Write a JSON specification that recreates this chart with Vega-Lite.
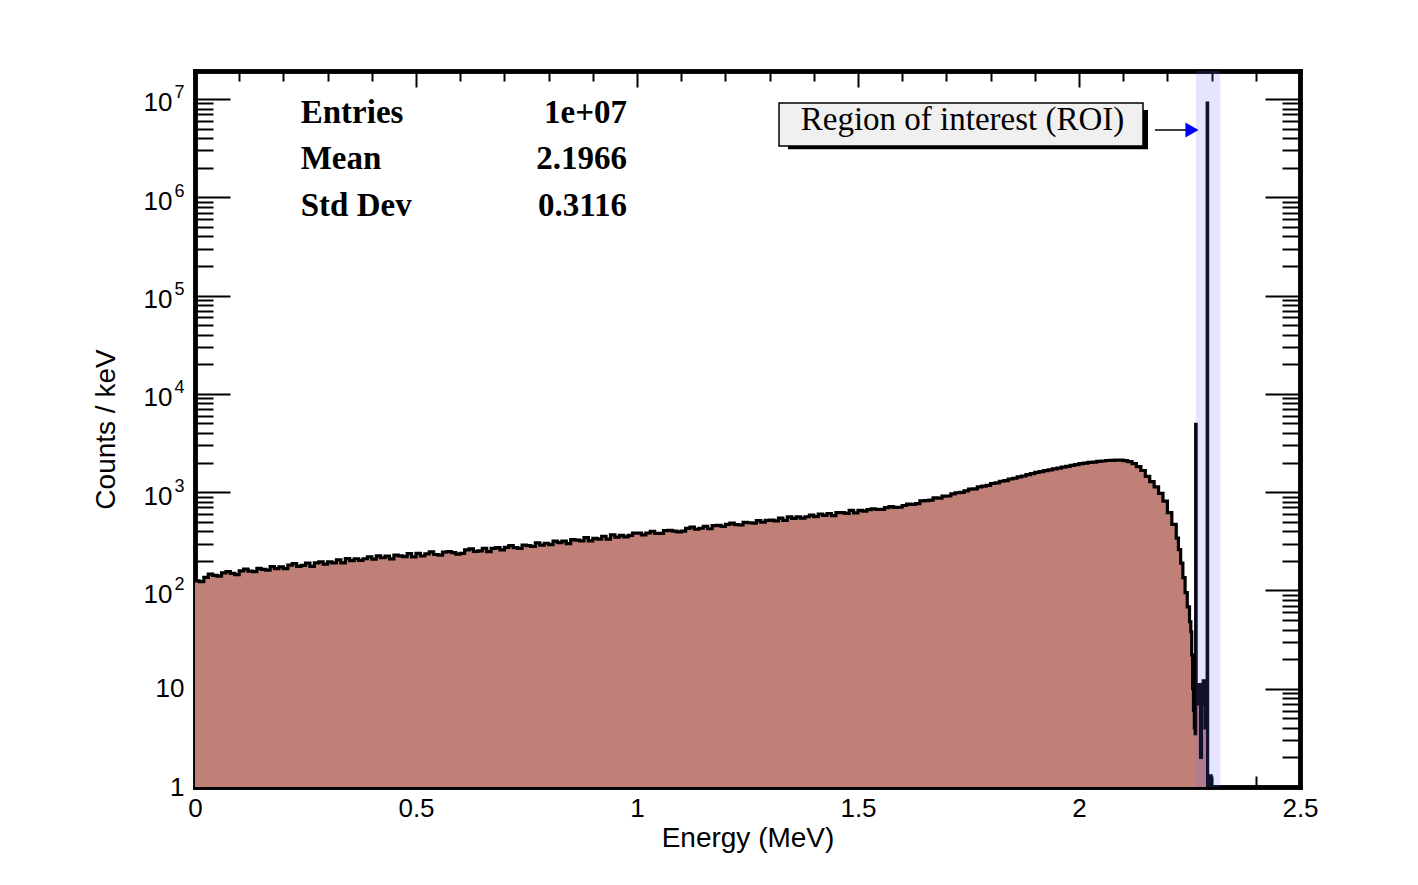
{
  "$schema": "https://vega.github.io/schema/vega-lite/v6.json",
  "width": 1105,
  "height": 716,
  "autosize": "none",
  "padding": {"left": 195, "top": 71, "right": 118, "bottom": 98},
  "background": "white",
  "config": {
    "view": {"stroke": null},
    "axis": {
      "domainColor": "black", "domainWidth": 4.5, "domainCap": "square",
      "grid": false, "zindex": 1, "tickColor": "black", "tickWidth": 2,
      "labelFont": "Liberation Sans", "labelFontSize": 26, "labelColor": "black",
      "labelFlush": false, "labelOverlap": false,
      "titleFont": "Liberation Sans", "titleFontSize": 28, "titleFontWeight": "normal", "titleColor": "black"
    }
  },
  "datasets": {
    "hist": [
      {"E":0,"c":125},{"E":0.01,"c":123},{"E":0.02,"c":136},{"E":0.03,"c":147},{"E":0.04,"c":142},{"E":0.05,"c":140},{"E":0.06,"c":151},{"E":0.07,"c":155},{"E":0.08,"c":149},{"E":0.09,"c":145},
      {"E":0.10,"c":158},{"E":0.11,"c":165},{"E":0.12,"c":157},{"E":0.13,"c":155},{"E":0.14,"c":168},{"E":0.15,"c":164},{"E":0.16,"c":161},{"E":0.17,"c":175},{"E":0.18,"c":167},{"E":0.19,"c":174},
      {"E":0.20,"c":167},{"E":0.21,"c":181},{"E":0.22,"c":187},{"E":0.23,"c":176},{"E":0.24,"c":180},{"E":0.25,"c":190},{"E":0.26,"c":176},{"E":0.27,"c":191},{"E":0.28,"c":195},{"E":0.29,"c":185},
      {"E":0.30,"c":195},{"E":0.31,"c":191},{"E":0.32,"c":205},{"E":0.33,"c":191},{"E":0.34,"c":211},{"E":0.35,"c":201},{"E":0.36,"c":210},{"E":0.37,"c":202},{"E":0.38,"c":210},{"E":0.39,"c":220},
      {"E":0.40,"c":208},{"E":0.41,"c":225},{"E":0.42,"c":215},{"E":0.43,"c":223},{"E":0.44,"c":209},{"E":0.45,"c":229},{"E":0.46,"c":225},{"E":0.47,"c":221},{"E":0.48,"c":237},{"E":0.49,"c":219},
      {"E":0.50,"c":238},{"E":0.51,"c":224},{"E":0.52,"c":235},{"E":0.53,"c":247},{"E":0.54,"c":232},{"E":0.55,"c":229},{"E":0.56,"c":245},{"E":0.57,"c":249},{"E":0.58,"c":242},{"E":0.59,"c":234},
      {"E":0.60,"c":238},{"E":0.61,"c":258},{"E":0.62,"c":265},{"E":0.63,"c":249},{"E":0.64,"c":253},{"E":0.65,"c":268},{"E":0.66,"c":248},{"E":0.67,"c":268},{"E":0.68,"c":273},{"E":0.69,"c":259},
      {"E":0.70,"c":274},{"E":0.71,"c":286},{"E":0.72,"c":273},{"E":0.73,"c":268},{"E":0.74,"c":290},{"E":0.75,"c":285},{"E":0.76,"c":280},{"E":0.77,"c":304},{"E":0.78,"c":289},{"E":0.79,"c":302},
      {"E":0.80,"c":293},{"E":0.81,"c":317},{"E":0.82,"c":306},{"E":0.83,"c":318},{"E":0.84,"c":299},{"E":0.85,"c":329},{"E":0.86,"c":325},{"E":0.87,"c":319},{"E":0.88,"c":345},{"E":0.89,"c":319},
      {"E":0.90,"c":338},{"E":0.91,"c":332},{"E":0.92,"c":356},{"E":0.93,"c":332},{"E":0.94,"c":368},{"E":0.95,"c":349},{"E":0.96,"c":364},{"E":0.97,"c":350},{"E":0.98,"c":364},{"E":0.99,"c":383},
      {"E":1.00,"c":383},{"E":1.01,"c":368},{"E":1.02,"c":384},{"E":1.03,"c":399},{"E":1.04,"c":380},{"E":1.05,"c":381},{"E":1.06,"c":405},{"E":1.07,"c":409},{"E":1.08,"c":401},{"E":1.09,"c":394},
      {"E":1.10,"c":402},{"E":1.11,"c":427},{"E":1.12,"c":440},{"E":1.13,"c":419},{"E":1.14,"c":429},{"E":1.15,"c":450},{"E":1.16,"c":424},{"E":1.17,"c":456},{"E":1.18,"c":460},{"E":1.19,"c":447},
      {"E":1.20,"c":470},{"E":1.21,"c":485},{"E":1.22,"c":467},{"E":1.23,"c":463},{"E":1.24,"c":493},{"E":1.25,"c":488},{"E":1.26,"c":483},{"E":1.27,"c":514},{"E":1.28,"c":494},{"E":1.29,"c":515},
      {"E":1.30,"c":520},{"E":1.31,"c":511},{"E":1.32,"c":543},{"E":1.33,"c":517},{"E":1.34,"c":561},{"E":1.35,"c":540},{"E":1.36,"c":561},{"E":1.37,"c":545},{"E":1.38,"c":562},{"E":1.39,"c":585},
      {"E":1.40,"c":563},{"E":1.41,"c":598},{"E":1.42,"c":581},{"E":1.43,"c":606},{"E":1.44,"c":577},{"E":1.45,"c":619},{"E":1.46,"c":620},{"E":1.47,"c":608},{"E":1.48,"c":652},{"E":1.49,"c":615},
      {"E":1.50,"c":653},{"E":1.51,"c":642},{"E":1.52,"c":664},{"E":1.53,"c":678},{"E":1.54,"c":666},{"E":1.55,"c":668},{"E":1.56,"c":697},{"E":1.57,"c":713},{"E":1.58,"c":700},{"E":1.59,"c":702},
      {"E":1.60,"c":731},{"E":1.61,"c":757},{"E":1.62,"c":752},{"E":1.63,"c":763},{"E":1.64,"c":814},{"E":1.65,"c":818},{"E":1.66,"c":830},{"E":1.67,"c":875},{"E":1.68,"c":870},{"E":1.69,"c":910},
      {"E":1.70,"c":914},{"E":1.71,"c":958},{"E":1.72,"c":986},{"E":1.73,"c":993},{"E":1.74,"c":1032},{"E":1.75,"c":1072},{"E":1.76,"c":1080},{"E":1.77,"c":1133},{"E":1.78,"c":1154},{"E":1.79,"c":1174},
      {"E":1.80,"c":1225},{"E":1.81,"c":1245},{"E":1.82,"c":1290},{"E":1.83,"c":1312},{"E":1.84,"c":1360},{"E":1.85,"c":1384},{"E":1.86,"c":1432},{"E":1.87,"c":1460},{"E":1.88,"c":1508},{"E":1.89,"c":1540},
      {"E":1.90,"c":1590},{"E":1.91,"c":1615},{"E":1.92,"c":1656},{"E":1.93,"c":1684},{"E":1.94,"c":1726},{"E":1.95,"c":1755},{"E":1.96,"c":1798},{"E":1.97,"c":1828},{"E":1.98,"c":1872},{"E":1.99,"c":1905},
      {"E":2.00,"c":1950},{"E":2.01,"c":1972},{"E":2.02,"c":2010},{"E":2.03,"c":2025},{"E":2.04,"c":2060},{"E":2.05,"c":2075},{"E":2.06,"c":2098},{"E":2.07,"c":2105},{"E":2.08,"c":2122},{"E":2.09,"c":2118},
      {"E":2.10,"c":2090},{"E":2.11,"c":2040},{"E":2.12,"c":1950},{"E":2.13,"c":1820},{"E":2.14,"c":1660},{"E":2.15,"c":1450},{"E":2.16,"c":1280},{"E":2.17,"c":1130},{"E":2.18,"c":970},{"E":2.19,"c":810},
      {"E":2.20,"c":620},{"E":2.21,"c":470},{"E":2.22,"c":340},{"E":2.225,"c":260},{"E":2.23,"c":190},{"E":2.235,"c":135},{"E":2.24,"c":95},{"E":2.245,"c":68},{"E":2.25,"c":48},{"E":2.253,"c":38},
      {"E":2.255,"c":22},{"E":2.257,"c":10},{"E":2.259,"c":6},{"E":2.261,"c":4},{"E":2.263,"c":3.5},{"E":2.264,"c":4900},{"E":2.265,"c":9},{"E":2.267,"c":11},{"E":2.269,"c":7},{"E":2.271,"c":9},
      {"E":2.273,"c":11},{"E":2.275,"c":2},{"E":2.277,"c":7},{"E":2.279,"c":9},{"E":2.281,"c":12},{"E":2.283,"c":10},{"E":2.285,"c":4},{"E":2.287,"c":7},{"E":2.290,"c":9100000},{"E":2.291,"c":1},
      {"E":2.297,"c":1.3},{"E":2.299,"c":1},{"E":2.31,"c":1}
    ]
  },
  "resolve": {"axis": {"x": "independent", "y": "independent"}},
  "layer": [
    {
      "data": {"name": "hist"},
      "mark": {"type": "area", "interpolate": "step-after", "color": "#c08078", "opacity": 1},
      "encoding": {
        "x": {"field": "E", "type": "quantitative", "scale": {"domain": [0, 2.5], "nice": false, "zero": false},
          "axis": {"orient": "bottom", "values": [0, 0.5, 1, 1.5, 2, 2.5], "tickSize": -22, "labelPadding": 30, "format": ".1~f", "title": "Energy (MeV)", "titlePadding": 3}},
        "y": {"field": "c", "type": "quantitative", "scale": {"type": "log", "domain": [1, 19270000], "nice": false},
          "axis": {"orient": "left", "values": [1, 10, 100, 1000, 10000, 100000, 1000000, 10000000], "tickSize": -35, "labelPadding": 46,
            "labelExpr": "datum.value < 5 ? '1' : datum.value < 50 ? '10' : ''",
            "title": "Counts / keV", "titlePadding": 35}},
        "y2": {"datum": 1}
      }
    },
    {
      "data": {"name": "hist"},
      "mark": {"type": "line", "interpolate": "step-after", "color": "black", "strokeWidth": 3.2},
      "encoding": {
        "x": {"field": "E", "type": "quantitative", "scale": {"domain": [0, 2.5], "nice": false, "zero": false},
          "axis": {"orient": "bottom", "values": [0.1,0.2,0.3,0.4,0.6,0.7,0.8,0.9,1.1,1.2,1.3,1.4,1.6,1.7,1.8,1.9,2.1,2.2,2.3,2.4], "tickSize": -11, "labels": false, "title": null}},
        "y": {"field": "c", "type": "quantitative", "scale": {"type": "log", "domain": [1, 19270000], "nice": false},
          "axis": {"orient": "left", "values": [2,3,4,5,6,7,8,9,20,30,40,50,60,70,80,90,200,300,400,500,600,700,800,900,2000,3000,4000,5000,6000,7000,8000,9000,20000,30000,40000,50000,60000,70000,80000,90000,200000,300000,400000,500000,600000,700000,800000,900000,2000000,3000000,4000000,5000000,6000000,7000000,8000000,9000000], "tickSize": -18, "labels": false, "title": null}}
      }
    },
    {
      "data": {"values": [{"a": 2.2645, "b": 2.3195, "lo": 1, "hi": 19270000}]},
      "mark": {"type": "rect", "color": "#6464ff", "opacity": 0.17},
      "encoding": {
        "x": {"field": "a", "type": "quantitative", "scale": {"domain": [0, 2.5], "nice": false, "zero": false},
          "axis": {"orient": "top", "values": [0, 0.5, 1, 1.5, 2, 2.5], "tickSize": -16, "labels": false, "title": null}},
        "x2": {"field": "b"},
        "y": {"field": "lo", "type": "quantitative", "scale": {"type": "log", "domain": [1, 19270000], "nice": false},
          "axis": {"orient": "right", "values": [1, 10, 100, 1000, 10000, 100000, 1000000, 10000000], "tickSize": -35, "labels": false, "title": null}},
        "y2": {"field": "hi"}
      }
    },
    {
      "data": {"values": [
        {"t": "Entries", "x": 0.2392, "y": 5710000},
        {"t": "Mean", "x": 0.2392, "y": 1920000},
        {"t": "Std Dev", "x": 0.2392, "y": 646000}
      ]},
      "mark": {"type": "text", "align": "left", "baseline": "alphabetic", "font": "Liberation Serif", "fontWeight": "bold", "fontSize": 33, "color": "black"},
      "encoding": {
        "x": {"field": "x", "type": "quantitative", "scale": {"domain": [0, 2.5], "nice": false, "zero": false},
          "axis": {"orient": "top", "values": [0.1,0.2,0.3,0.4,0.6,0.7,0.8,0.9,1.1,1.2,1.3,1.4,1.6,1.7,1.8,1.9,2.1,2.2,2.3,2.4], "tickSize": -10, "labels": false, "title": null}},
        "y": {"field": "y", "type": "quantitative", "scale": {"type": "log", "domain": [1, 19270000], "nice": false},
          "axis": {"orient": "right", "values": [2,3,4,5,6,7,8,9,20,30,40,50,60,70,80,90,200,300,400,500,600,700,800,900,2000,3000,4000,5000,6000,7000,8000,9000,20000,30000,40000,50000,60000,70000,80000,90000,200000,300000,400000,500000,600000,700000,800000,900000,2000000,3000000,4000000,5000000,6000000,7000000,8000000,9000000], "tickSize": -18, "labels": false, "title": null}},
        "text": {"field": "t"}
      }
    },
    {
      "data": {"values": [
        {"t": "1e+07", "x": 0.9773, "y": 5710000},
        {"t": "2.1966", "x": 0.9773, "y": 1920000},
        {"t": "0.3116", "x": 0.9773, "y": 646000}
      ]},
      "mark": {"type": "text", "align": "right", "baseline": "alphabetic", "font": "Liberation Serif", "fontWeight": "bold", "fontSize": 33, "color": "black"},
      "encoding": {
        "x": {"field": "x", "type": "quantitative", "scale": {"domain": [0, 2.5], "nice": false, "zero": false}, "axis": null},
        "y": {"field": "y", "type": "quantitative", "scale": {"type": "log", "domain": [1, 19270000], "nice": false},
          "axis": {"orient": "left", "values": [100, 1000, 10000, 100000, 1000000, 10000000], "ticks": false, "domain": false, "labelPadding": 23, "labelOffset": 4, "labelExpr": "'10'", "title": null}},
        "text": {"field": "t"}
      }
    },
    {
      "data": {"values": [{"x1": 1.3416, "x2": 2.1561, "y1": 3090000, "y2": 7730000}]},
      "mark": {"type": "rect", "color": "black"},
      "encoding": {
        "x": {"field": "x1", "type": "quantitative", "scale": {"domain": [0, 2.5], "nice": false, "zero": false}, "axis": null},
        "x2": {"field": "x2"},
        "y": {"field": "y1", "type": "quantitative", "scale": {"type": "log", "domain": [1, 19270000], "nice": false},
          "axis": {"orient": "left", "values": [100, 1000, 10000, 100000, 1000000, 10000000], "ticks": false, "domain": false, "labelPadding": 11, "labelOffset": -6, "labelFontSize": 18, "labelExpr": "'' + round(log(datum.value) / LN10)", "title": null}},
        "y2": {"field": "y2"}
      }
    },
    {
      "data": {"values": [{"x1": 1.3213, "x2": 2.1448, "y1": 3330000, "y2": 9120000}]},
      "mark": {"type": "rect", "fill": "#f0f0f0", "stroke": "black", "strokeWidth": 1.5},
      "encoding": {
        "x": {"field": "x1", "type": "quantitative", "scale": {"domain": [0, 2.5], "nice": false, "zero": false}, "axis": null},
        "x2": {"field": "x2"},
        "y": {"field": "y1", "type": "quantitative", "scale": {"type": "log", "domain": [1, 19270000], "nice": false}, "axis": null},
        "y2": {"field": "y2"}
      }
    },
    {
      "data": {"values": [{"t": "Region of interest (ROI)", "x": 1.7364, "y": 4840000}]},
      "mark": {"type": "text", "align": "center", "baseline": "alphabetic", "font": "Liberation Serif", "fontSize": 33, "color": "black"},
      "encoding": {
        "x": {"field": "x", "type": "quantitative", "scale": {"domain": [0, 2.5], "nice": false, "zero": false}, "axis": null},
        "y": {"field": "y", "type": "quantitative", "scale": {"type": "log", "domain": [1, 19270000], "nice": false}, "axis": null},
        "text": {"field": "t"}
      }
    },
    {
      "data": {"values": [{"x1": 2.172, "x2": 2.25, "y": 4840000}]},
      "mark": {"type": "rule", "color": "black", "strokeWidth": 1.3},
      "encoding": {
        "x": {"field": "x1", "type": "quantitative", "scale": {"domain": [0, 2.5], "nice": false, "zero": false}, "axis": null},
        "x2": {"field": "x2"},
        "y": {"field": "y", "type": "quantitative", "scale": {"type": "log", "domain": [1, 19270000], "nice": false}, "axis": null}
      }
    },
    {
      "data": {"values": [{"x": 2.2557, "y": 4840000}]},
      "mark": {"type": "point", "shape": "triangle-right", "filled": true, "color": "#0000ff", "size": 230, "opacity": 1},
      "encoding": {
        "x": {"field": "x", "type": "quantitative", "scale": {"domain": [0, 2.5], "nice": false, "zero": false}, "axis": null},
        "y": {"field": "y", "type": "quantitative", "scale": {"type": "log", "domain": [1, 19270000], "nice": false}, "axis": null}
      }
    }
  ]
}
